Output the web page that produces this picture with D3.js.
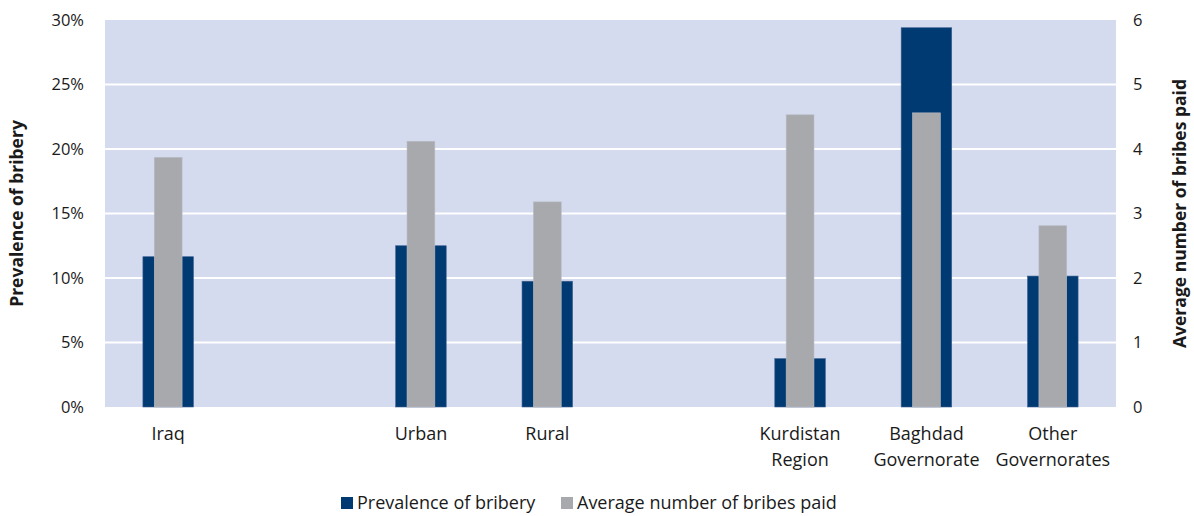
<!DOCTYPE html>
<html>
<head>
<meta charset="utf-8">
<script src="https://cdn.jsdelivr.net/npm/d3@7"></script>
<style>
  body { margin: 0; background: #fff; }
  svg text { font-family: "Open Sans", "Noto Sans", sans-serif; fill: #1a1a1a; }
</style>
</head>
<body>
<div id="chart"></div>
<script>
// slots along the x axis; blank slots ("") keep the gaps between groups
var slots = ["Iraq", "", "Urban", "Rural", "", "Kurdistan Region", "Baghdad Governorate", "Other Governorates"];
var labelLines = {
  "Iraq": ["Iraq"],
  "Urban": ["Urban"],
  "Rural": ["Rural"],
  "Kurdistan Region": ["Kurdistan", "Region"],
  "Baghdad Governorate": ["Baghdad", "Governorate"],
  "Other Governorates": ["Other", "Governorates"]
};
var categories = ["Iraq", "Urban", "Rural", "Kurdistan Region", "Baghdad Governorate", "Other Governorates"];
var prevalence = [11.65, 12.5, 9.75, 3.75, 29.4, 10.15];   // percent, left axis
var avgBribes  = [3.87, 4.12, 3.18, 4.53, 4.56, 2.81];      // count, right axis
var leftTicks = [0, 5, 10, 15, 20, 25, 30];
var rightTicks = [0, 1, 2, 3, 4, 5, 6];

var width = 1194, height = 516;
var margin = {top: 20, right: 78, bottom: 109, left: 105};
var blue = "#003A73", grey = "#A8A9AD";

var svg = d3.select("#chart").append("svg")
  .attr("width", width)
  .attr("height", height);

var x = d3.scaleBand()
  .domain(slots.map(function(d, i) { return i; }))
  .range([margin.left, width - margin.right])
  .padding(0);

var yL = d3.scaleLinear().domain([0, 30]).range([height - margin.bottom, margin.top]);
var yR = d3.scaleLinear().domain([0, 6]).range([height - margin.bottom, margin.top]);

// plot background
svg.append("rect")
  .attr("x", margin.left)
  .attr("y", margin.top)
  .attr("width", width - margin.left - margin.right)
  .attr("height", height - margin.top - margin.bottom)
  .attr("fill", "#D5DBEE");

// gridlines
svg.append("g").selectAll("line")
  .data(leftTicks.slice(1, -1))
  .enter().append("line")
  .attr("x1", margin.left)
  .attr("x2", width - margin.right)
  .attr("y1", function(d) { return yL(d); })
  .attr("y2", function(d) { return yL(d); })
  .attr("stroke", "#fff")
  .attr("stroke-width", 2);

// left axis
var leftAxis = d3.axisLeft(yL).tickValues(leftTicks)
  .tickFormat(function(d) { return d + "%"; })
  .tickSize(0).tickPadding(21);
svg.append("g")
  .attr("transform", "translate(" + margin.left + ",0)")
  .call(leftAxis)
  .call(function(g) { g.select(".domain").remove(); })
  .selectAll("text")
  .style("font-size", "16.5px");

// right axis
var rightAxis = d3.axisRight(yR).tickValues(rightTicks)
  .tickFormat(d3.format("d"))
  .tickSize(0).tickPadding(17);
svg.append("g")
  .attr("transform", "translate(" + (width - margin.right) + ",0)")
  .call(rightAxis)
  .call(function(g) { g.select(".domain").remove(); })
  .selectAll("text")
  .style("font-size", "16.5px");

function slotOf(name) { return slots.indexOf(name); }

var bw = x.bandwidth();
var blueW = bw * 0.4, greyW = bw * 0.22;

// prevalence bars (behind)
svg.append("g").selectAll("rect")
  .data(categories)
  .enter().append("rect")
  .attr("x", function(d) { return x(slotOf(d)) + bw / 2 - blueW / 2; })
  .attr("width", blueW)
  .attr("y", function(d, i) { return yL(prevalence[i]); })
  .attr("height", function(d, i) { return yL(0) - yL(prevalence[i]); })
  .attr("fill", blue)
  .attr("stroke", "#3d5f8f")
  .attr("stroke-width", 0.6);

// average bribes bars (front)
svg.append("g").selectAll("rect")
  .data(categories)
  .enter().append("rect")
  .attr("x", function(d) { return x(slotOf(d)) + bw / 2 - greyW / 2; })
  .attr("width", greyW)
  .attr("y", function(d, i) { return yR(avgBribes[i]); })
  .attr("height", function(d, i) { return yR(0) - yR(avgBribes[i]); })
  .attr("fill", grey)
  .attr("stroke", "#b9bcc4")
  .attr("stroke-width", 0.6);

// category labels
var lab = svg.append("g").selectAll("text")
  .data(categories)
  .enter().append("text")
  .attr("text-anchor", "middle")
  .attr("x", function(d) { return x(slotOf(d)) + bw / 2; })
  .attr("y", 440)
  .style("font-size", "18px");
lab.selectAll("tspan")
  .data(function(d) { return labelLines[d]; })
  .enter().append("tspan")
  .attr("x", function() { return d3.select(this.parentNode).attr("x"); })
  .attr("dy", function(d, i) { return i === 0 ? 0 : 26; })
  .text(function(d) { return d; });

// axis titles
svg.append("text")
  .attr("transform", "translate(23," + ((margin.top + height - margin.bottom) / 2) + ") rotate(-90)")
  .attr("text-anchor", "middle")
  .style("font-size", "17.5px")
  .style("font-weight", "bold")
  .text("Prevalence of bribery");

svg.append("text")
  .attr("transform", "translate(1186," + ((margin.top + height - margin.bottom) / 2) + ") rotate(-90)")
  .attr("text-anchor", "middle")
  .style("font-size", "17.5px")
  .style("font-weight", "bold")
  .text("Average number of bribes paid");

// legend
var legendItems = [
  {name: "Prevalence of bribery", color: blue, x: 341},
  {name: "Average number of bribes paid", color: grey, x: 561}
];
var leg = svg.append("g").selectAll("g")
  .data(legendItems)
  .enter().append("g")
  .attr("transform", function(d) { return "translate(" + d.x + ",497)"; });
leg.append("rect")
  .attr("width", 12).attr("height", 12)
  .attr("fill", function(d) { return d.color; });
leg.append("text")
  .attr("x", 16).attr("y", 12)
  .style("font-size", "18px")
  .text(function(d) { return d.name; });
</script>
</body>
</html>
